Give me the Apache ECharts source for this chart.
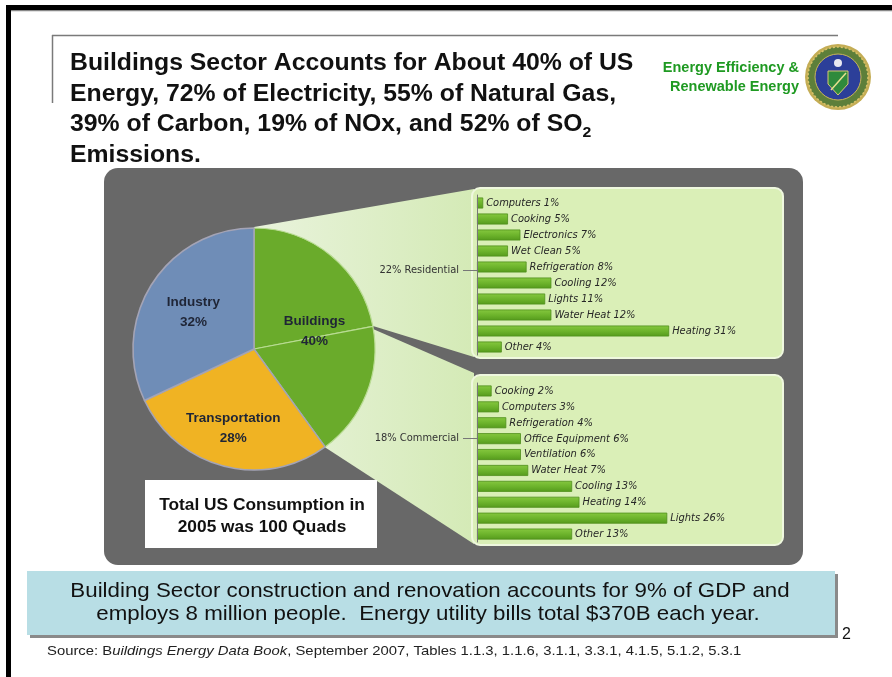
<!DOCTYPE html>
<html>
<head>
<meta charset="utf-8">
<script src="https://cdn.jsdelivr.net/npm/echarts@6/dist/echarts.min.js"></script>
<style>
html,body{margin:0;padding:0;background:#fff;}
#chart{width:892px;height:677px;}
</style>
</head>
<body>
<div id="chart"></div>
<script>
// ---- data ----
const pieCats = ['Buildings', 'Transportation', 'Industry'];
const pieValues = [40, 28, 32];
const splitCats = ['Residential', 'Commercial'];
const splitValues = [22, 18];
const resCats = ['Computers', 'Cooking', 'Electronics', 'Wet Clean', 'Refrigeration', 'Cooling', 'Lights', 'Water Heat', 'Heating', 'Other'];
const resValues = [1, 5, 7, 5, 8, 12, 11, 12, 31, 4];
const comCats = ['Cooking', 'Computers', 'Refrigeration', 'Office Equipment', 'Ventilation', 'Water Heat', 'Cooling', 'Heating', 'Lights', 'Other'];
const comValues = [2, 3, 4, 6, 6, 7, 13, 14, 26, 13];

const chart = echarts.init(document.getElementById('chart'), null, {renderer: 'canvas'});

const SANS = "'Liberation Sans', Arial, sans-serif";
const narrow = "'DejaVu Sans Condensed', 'Liberation Sans', sans-serif";
const green = '#6aab2b';
const pieColors = {Buildings: green, Transportation: '#f0b323', Industry: '#6f8db7'};

function txt(x, y, text, font, fill, align, extra, el) {
  return Object.assign({
    type: 'text', x: x, y: y, z: 10, silent: true,
    style: Object.assign({text: text, font: font, fill: fill,
      textAlign: align || 'left', align: align || 'left',
      textVerticalAlign: 'middle', verticalAlign: 'middle'}, extra || {})
  }, el || {});
}

const barCommon = {
  type: 'bar', barWidth: 11, z: 5,
  itemStyle: {
    color: new echarts.graphic.LinearGradient(0, 0, 0, 1, [
      {offset: 0, color: '#86c83f'}, {offset: 0.5, color: '#6db42c'}, {offset: 1, color: '#559a1c'}]),
    borderColor: '#4f8f1c', borderWidth: 0.8
  },
  label: {
    show: true, position: 'right', distance: 3,
    formatter: p => p.name + ' ' + p.value + '%',
    fontFamily: narrow, fontStyle: 'italic', fontSize: 11, color: '#262626'
  },
  silent: true, animation: false
};

const option = {
  animation: false,
  grid: [
    {left: 477, top: 195, width: 300, height: 160},
    {left: 477, top: 383, width: 300, height: 159}
  ],
  xAxis: [
    {type: 'value', gridIndex: 0, min: 0, max: 48.4, show: false},
    {type: 'value', gridIndex: 1, min: 0, max: 41, show: false}
  ],
  yAxis: [
    {type: 'category', gridIndex: 0, data: resCats, inverse: true, z: 6,
      axisLine: {show: true, lineStyle: {color: '#777', width: 1}}, axisTick: {show: false}, axisLabel: {show: false}},
    {type: 'category', gridIndex: 1, data: comCats, inverse: true, z: 6,
      axisLine: {show: true, lineStyle: {color: '#777', width: 1}}, axisTick: {show: false}, axisLabel: {show: false}}
  ],
  series: [
    Object.assign({}, barCommon, {name: 'Residential', xAxisIndex: 0, yAxisIndex: 0, data: resValues}),
    Object.assign({}, barCommon, {name: 'Commercial', xAxisIndex: 1, yAxisIndex: 1, data: comValues}),
    {
      type: 'pie', name: 'slices', z: 5, center: [254, 349], radius: [0, 121],
      startAngle: 90, clockwise: true, silent: true, label: {show: false}, labelLine: {show: false},
      data: [
        {name: splitCats[0], value: splitValues[0], itemStyle: {color: green, borderColor: '#b9dc93', borderWidth: 1.2}},
        {name: splitCats[1], value: splitValues[1], itemStyle: {color: green, borderColor: '#b9dc93', borderWidth: 1.2}},
        {name: pieCats[1], value: pieValues[1], itemStyle: {color: pieColors.Transportation, borderColor: '#a4a4b6', borderWidth: 1.6}},
        {name: pieCats[2], value: pieValues[2], itemStyle: {color: pieColors.Industry, borderColor: '#a4a4b6', borderWidth: 1.6}}
      ]
    },
    {
      type: 'pie', name: 'labels', z: 6, center: [254, 349], radius: [0, 121],
      startAngle: 90, clockwise: true, silent: true,
      itemStyle: {color: 'rgba(0,0,0,0)'},
      label: {show: true, position: 'inside', formatter: '{b}\n{c}%',
        fontFamily: SANS, fontWeight: 'bold', fontSize: 13.5,
        lineHeight: 20, color: '#1f2536'},
      labelLine: {show: false},
      labelLayout: function (p) {
        if (p.dataIndex === 1) return {dx: -5, dy: 18};
        if (p.dataIndex === 2) return {dx: -7, dy: -3};
        return {dy: 2};
      },
      data: pieCats.map((c, i) => ({name: c, value: pieValues[i]}))
    }
  ],
  graphic: {elements: [
    // frame
    {type: 'rect', z: 0, silent: true, shape: {x: 6, y: 5, width: 886, height: 5}, style: {fill: '#000'}},
    {type: 'rect', z: 0, silent: true, shape: {x: 6, y: 10, width: 886, height: 1.2}, style: {fill: '#888'}},
    {type: 'rect', z: 0, silent: true, shape: {x: 6, y: 5, width: 5, height: 672}, style: {fill: '#000'}},
    {type: 'line', z: 0, silent: true, shape: {x1: 52, y1: 35.5, x2: 838, y2: 35.5}, style: {stroke: '#7a7a7a', lineWidth: 1.5}},
    {type: 'line', z: 0, silent: true, shape: {x1: 52.5, y1: 35, x2: 52.5, y2: 103}, style: {stroke: '#7a7a7a', lineWidth: 1.5}},
    // title
    {type: 'text', x: 70, y: 48, z: 10, silent: true, scaleX: 1.055, style: {
      text: 'Buildings Sector Accounts for About 40% of US\nEnergy, 72% of Electricity, 55% of Natural Gas,\n39% of Carbon, 19% of NOx, and 52% of SO{sub|2}\nEmissions.',
      font: 'bold 23.5px ' + SANS, fill: '#111', lineHeight: 30.7,
      rich: {sub: {fontSize: 15, fontWeight: 'bold', fontFamily: SANS, lineHeight: 2, verticalAlign: 'bottom', fill: '#111'}}
    }},
    // EERE text
    txt(799, 68, 'Energy Efficiency &', 'bold 14.5px ' + SANS, '#1f9a22', 'right'),
    txt(799, 87, 'Renewable Energy', 'bold 14.5px ' + SANS, '#1f9a22', 'right'),
    // logo
    {type: 'circle', z: 1, silent: true, shape: {cx: 838, cy: 77, r: 33}, style: {fill: '#c4ad55'}},
    {type: 'circle', z: 1, silent: true, shape: {cx: 838, cy: 77, r: 30}, style: {fill: '#5d7f3a', stroke: '#d9c46a', lineWidth: 1.5, lineDash: [2, 2]}},
    {type: 'circle', z: 1, silent: true, shape: {cx: 838, cy: 77, r: 23}, style: {fill: '#2c3f99', stroke: '#c9b45a', lineWidth: 1}},
    {type: 'polygon', z: 1, silent: true, shape: {points: [[828, 71], [848, 71], [848, 84], [838, 95], [828, 84]]}, style: {fill: '#2f8a3c', stroke: '#d8c870', lineWidth: 1}},
    {type: 'line', z: 1, silent: true, shape: {x1: 831, y1: 90, x2: 846, y2: 73}, style: {stroke: '#e8e090', lineWidth: 1.5}},
    {type: 'circle', z: 1, silent: true, shape: {cx: 838, cy: 63, r: 4}, style: {fill: '#e8e8f0'}},
    // panel
    {type: 'rect', z: 0, silent: true, shape: {x: 104, y: 168, width: 699, height: 397, r: 14}, style: {fill: '#686868'}},
    // wedges
    {type: 'polygon', z: 1, silent: true, shape: {points: [[254, 227], [474, 189], [474, 357], [373, 326], [254, 349]]},
      style: {fill: new echarts.graphic.LinearGradient(0, 0, 1, 0, [{offset: 0, color: '#e9f3dc'}, {offset: 1, color: '#d4eab6'}])}},
    {type: 'polygon', z: 1, silent: true, shape: {points: [[373, 329], [474, 373], [474, 544], [323, 446], [254, 349]]},
      style: {fill: new echarts.graphic.LinearGradient(0, 0, 1, 0, [{offset: 0, color: '#e9f3dc'}, {offset: 1, color: '#d4eab6'}])}},
    // boxes
    {type: 'rect', z: 2, silent: true, shape: {x: 472, y: 188, width: 311, height: 170, r: 8}, style: {fill: '#daefb7', stroke: '#eff8df', lineWidth: 2}},
    {type: 'rect', z: 2, silent: true, shape: {x: 472, y: 375, width: 311, height: 170, r: 8}, style: {fill: '#daefb7', stroke: '#eff8df', lineWidth: 2}},
    // sector labels
    txt(459, 270, splitValues[0] + '% ' + splitCats[0], '11px ' + narrow, '#333', 'right'),
    txt(459, 438, splitValues[1] + '% ' + splitCats[1], '11px ' + narrow, '#333', 'right'),
    {type: 'line', z: 10, silent: true, shape: {x1: 463, y1: 270.5, x2: 477, y2: 270.5}, style: {stroke: '#777', lineWidth: 1}},
    {type: 'line', z: 10, silent: true, shape: {x1: 463, y1: 438.5, x2: 477, y2: 438.5}, style: {stroke: '#777', lineWidth: 1}},
    // total box
    {type: 'rect', z: 3, silent: true, shape: {x: 145, y: 480, width: 232, height: 68}, style: {fill: '#fff'}},
    txt(262, 505, 'Total US Consumption in', 'bold 16.5px ' + SANS, '#111', 'center', null, {scaleX: 1.05}),
    txt(262, 527, '2005 was 100 Quads', 'bold 16.5px ' + SANS, '#111', 'center', null, {scaleX: 1.05}),
    // bottom band
    {type: 'rect', z: 1, silent: true, shape: {x: 30, y: 574, width: 808, height: 64}, style: {fill: '#8a8a8a'}},
    {type: 'rect', z: 2, silent: true, shape: {x: 27, y: 571, width: 808, height: 64}, style: {fill: '#b8dee5'}},
    txt(430, 591, 'Building Sector construction and renovation accounts for 9% of GDP and', '20.3px ' + SANS, '#111', 'center', null, {scaleX: 1.1}),
    txt(428, 614, 'employs 8 million people.  Energy utility bills total $370B each year.', '20.3px ' + SANS, '#111', 'center', null, {scaleX: 1.1}),
    txt(842, 635, '2', '16px ' + SANS, '#111', 'left'),
    {type: 'text', x: 47, y: 651, z: 10, silent: true, scaleX: 1.1, style: {
      text: 'Source: B{i|uildings Energy Data Book}, September 2007, Tables 1.1.3, 1.1.6, 3.1.1, 3.3.1, 4.1.5, 5.1.2, 5.3.1',
      font: '13.5px ' + SANS, fill: '#222', textVerticalAlign: 'middle', verticalAlign: 'middle',
      rich: {i: {fontStyle: 'italic', fontSize: 13.5, fontFamily: SANS, fill: '#222'}}
    }}
  ]}
};
chart.setOption(option);
</script>
</body>
</html>
